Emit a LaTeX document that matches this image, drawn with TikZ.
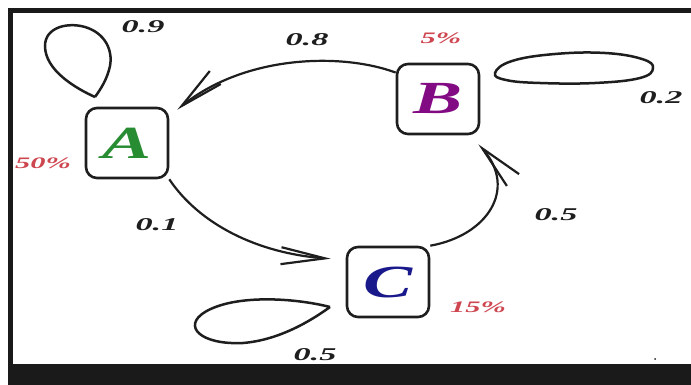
\documentclass[tikz,border=0pt]{standalone}
\usepackage{fontspec}
\setmainfont{Liberation Serif}
\usetikzlibrary{arrows.meta,bending}

\definecolor{ink}{RGB}{30,30,30}
\definecolor{framecol}{RGB}{26,26,26}
\definecolor{pct}{RGB}{205,70,80}
\definecolor{stA}{RGB}{40,140,50}
\definecolor{stB}{RGB}{130,10,130}
\definecolor{stC}{RGB}{25,25,140}

% horizontally widened text
\newcommand{\widen}[2]{\scalebox{#1}[1]{#2}}

\begin{document}
\begin{tikzpicture}[x=1pt,y=-1pt,
  state/.style={draw=ink, line width=2.6pt, rounded corners=11pt,
    minimum width=82pt, minimum height=70pt, inner sep=0pt,
    font=\fontsize{46}{46}\selectfont\bfseries\itshape},
  prob/.style={inner sep=0pt, text=ink,
    font=\fontsize{18}{18}\selectfont\bfseries\itshape},
  share/.style={inner sep=0pt, text=pct,
    font=\fontsize{16}{16}\selectfont\bfseries\itshape},
  edge/.style={draw=ink, line width=2.2pt,
    -{Straight Barb[length=44pt,width=17pt,flex]}},
  selfloop/.style={draw=ink, line width=2.5pt}]

\useasboundingbox (0,0) rectangle (691,385);

% frame bars
\fill[framecol] (8,8) rectangle (691,13);
\fill[framecol] (8,8) rectangle (13,385);
\fill[framecol] (8,364) rectangle (691,385);

% states
\node[state, text=stA] (A) at (127,143) {\widen{1.6}{A}};
\node[state, text=stB] (B) at (438,99)  {\widen{1.6}{B}};
\node[state, text=stC] (C) at (388,282) {\widen{1.6}{C}};

% transitions between states
\draw[edge] (B.148) .. controls (340,52) and (240,55) ..
  ([xshift=8pt,yshift=-3pt]A.north east);
\draw[edge] (A.south east) .. controls (200,225) and (260,255) ..
  ([xshift=-15pt,yshift=-13pt]C.north west);
\draw[edge] (C.north east) .. controls (490,235) and (520,185) ..
  ([xshift=-2pt,yshift=-9pt]B.south east);

% self loops
\draw[selfloop] (95,97) .. controls (75,88) and (45,70) .. (45,46)
  .. controls (45,27) and (68,22) .. (85,27)
  .. controls (105,33) and (113,50) .. (110,66)
  .. controls (107,80) and (100,90) .. (95,97);
\draw[selfloop] plot[smooth cycle, tension=0.7] coordinates
  {(495,73) (512,61) (555,54) (605,53) (642,59) (653,68) (640,78) (595,83) (540,83) (506,80)};
\draw[selfloop] (330,307) .. controls (295,298) and (235,294) .. (205,312)
  .. controls (182,326) and (200,345) .. (243,343)
  .. controls (280,340) and (312,320) .. (330,307);

% transition probabilities
\node[prob] (p9)  at (143,27)  {\widen{1.9}{0.9}};
\node[prob] (p8)  at (307,40)  {\widen{1.9}{0.8}};
\node[prob] (p2)  at (661,98)  {\widen{1.9}{0.2}};
\node[prob] (p1)  at (157,225) {\widen{1.9}{0.1}};
\node[prob] (p5a) at (556,215) {\widen{1.9}{0.5}};
\node[prob] (p5b) at (315,355) {\widen{1.9}{0.5}};

% state shares
\node[share] (sA) at (43,163)  {\widen{1.9}{50\%}};
\node[share] (sB) at (441,38)  {\widen{1.9}{5\%}};
\node[share] (sC) at (478,307) {\widen{1.9}{15\%}};

% stray dot
\fill[ink] (655,359) circle (1pt);
\end{tikzpicture}
\end{document}
